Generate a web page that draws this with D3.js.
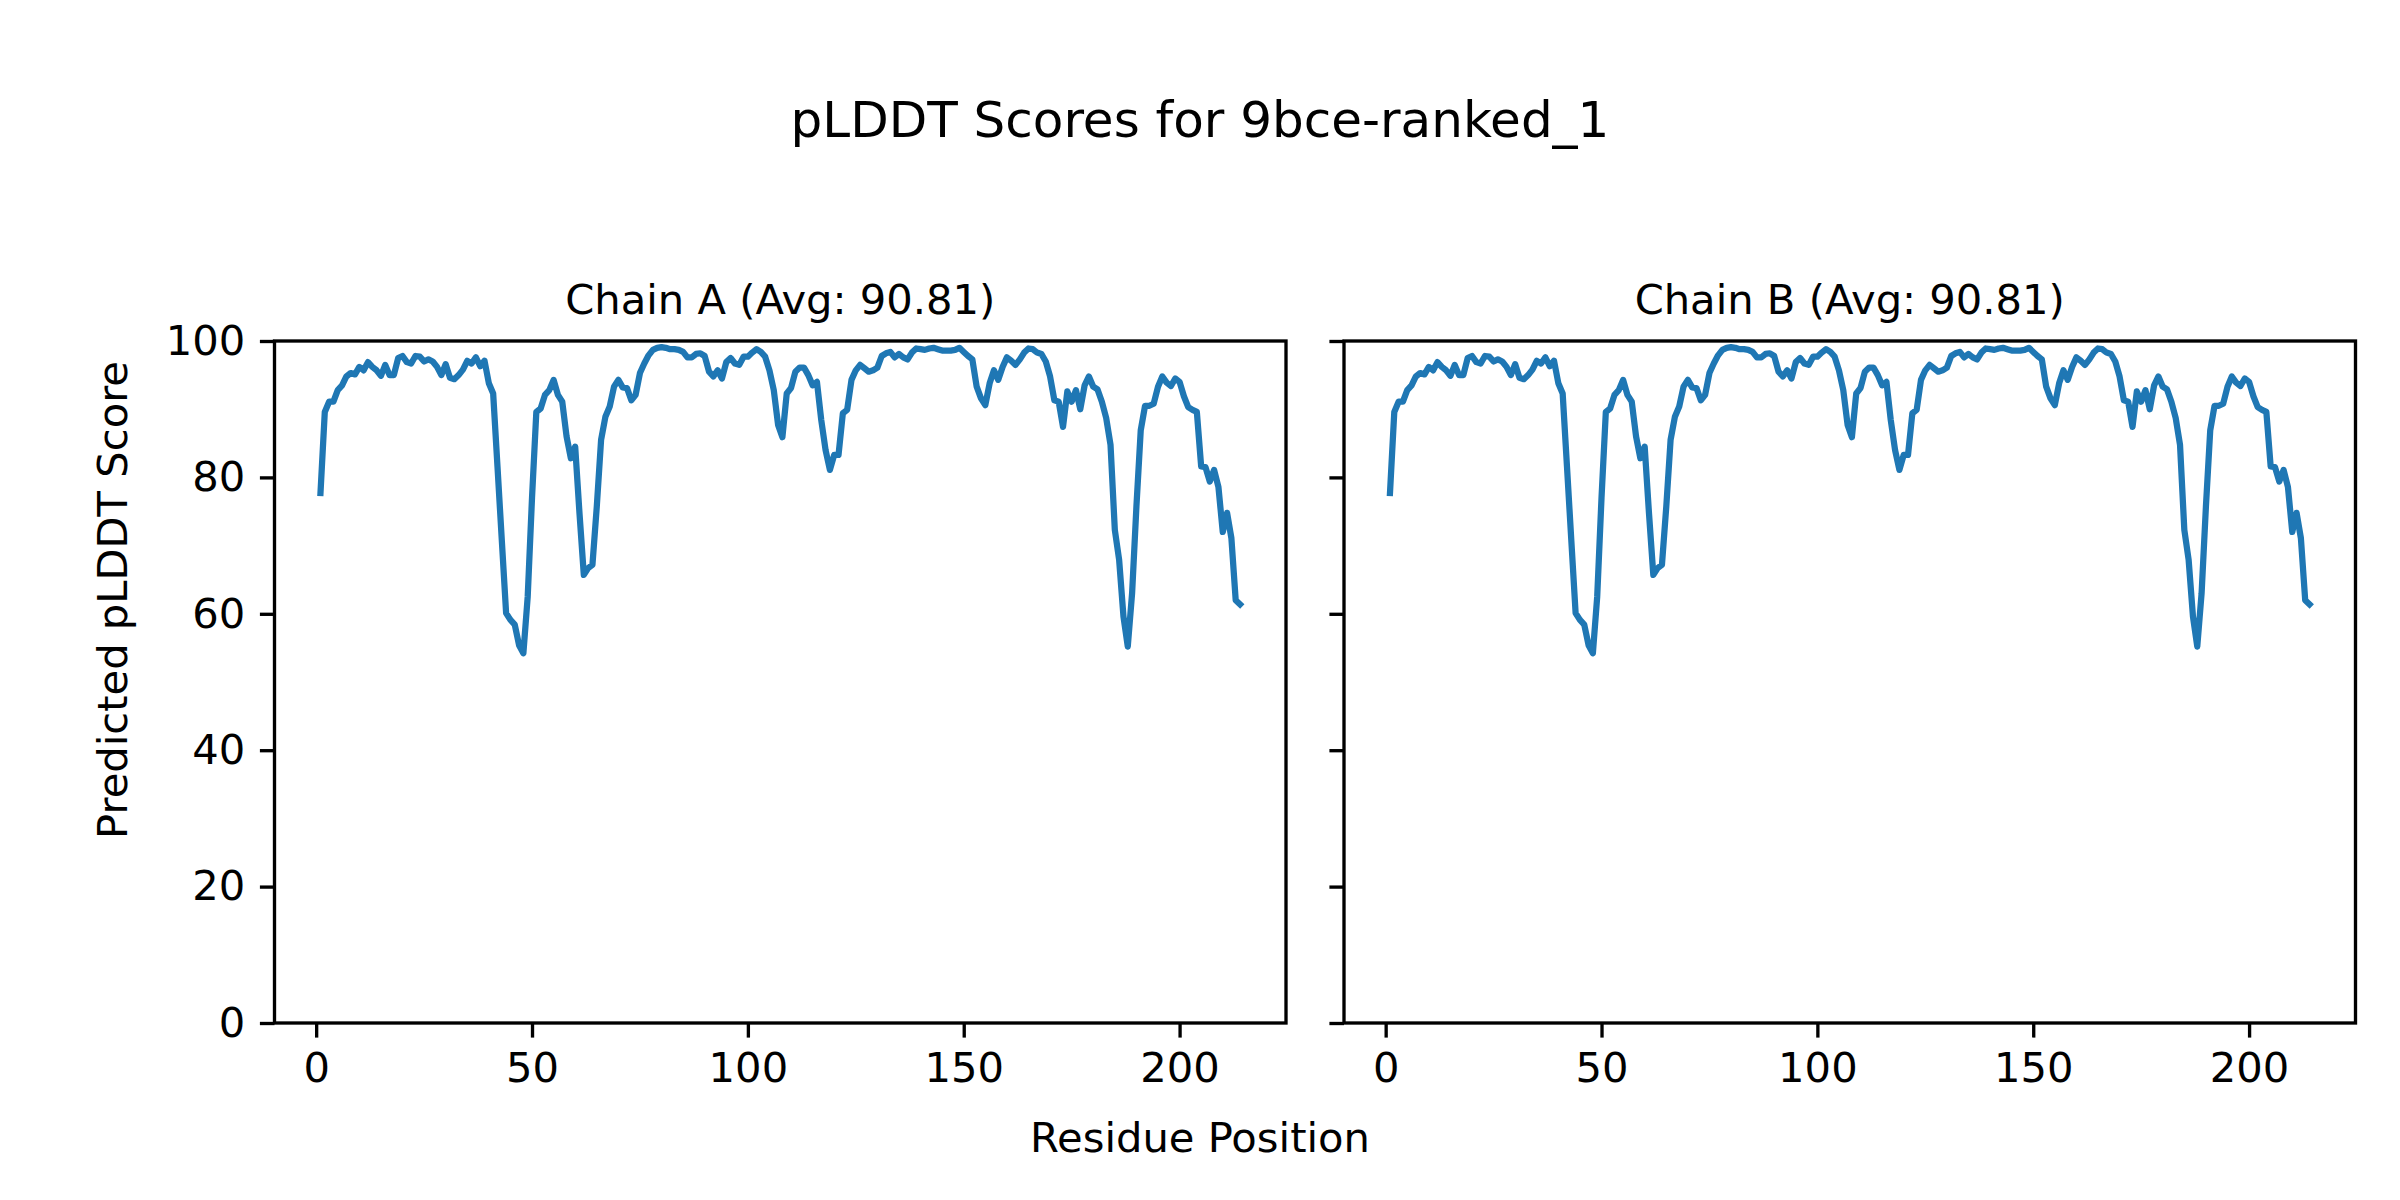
<!DOCTYPE html>
<html>
<head>
<meta charset="utf-8">
<style>
  body { margin: 0; background: #fff; }
  svg { display: block; font-family: 'DejaVu Sans', sans-serif; }
  .line { fill: none; stroke: #1f77b4; stroke-width: 6.25; stroke-linejoin: round; stroke-linecap: square; }
  .frame { fill: none; stroke: #000; stroke-width: 3.33; }
</style>
<script src="https://d3js.org/d3.v7.min.js"></script>
</head>
<body>
<svg width="2400" height="1200"></svg>
<script>
    const chainNames = ['A', 'B'];
    const chainAvg = [90.81, 90.81];
    const chainAScores = [
        77.7, 89.6, 91.1, 91.1, 92.8, 93.5, 94.8, 95.3, 95.1, 96.2,
        95.7, 96.9, 96.2, 95.7, 94.9, 96.5, 95.0, 95.0, 97.5, 97.8,
        96.9, 96.7, 97.8, 97.7, 97.0, 97.3, 97.0, 96.2, 95.0, 96.6,
        94.6, 94.4, 95.0, 95.8, 97.1, 96.7, 97.6, 96.3, 97.1, 93.8,
        92.3, 81.6, 70.8, 60.1, 59.1, 58.4, 55.4, 54.2, 62.5, 77.0,
        89.6, 90.1, 92.1, 92.8, 94.3, 92.1, 91.1, 86.0, 82.8, 84.5,
        74.7, 65.7, 66.7, 67.2, 75.7, 85.5, 88.9, 90.4, 93.3, 94.3,
        93.2, 93.1, 91.3, 92.1, 95.3, 96.7, 97.9, 98.7, 99.0, 99.1,
        99.0, 98.8, 98.8, 98.7, 98.4, 97.6, 97.6, 98.1, 98.2, 97.8,
        95.5, 94.8, 95.7, 94.5, 96.9, 97.5, 96.7, 96.5, 97.7, 97.7,
        98.3, 98.8, 98.4, 97.7, 95.7, 92.8, 87.7, 85.9, 92.3, 93.1,
        95.5, 96.1, 96.1, 95.0, 93.5, 94.0, 88.4, 84.0, 81.1, 83.3,
        83.3, 89.4, 89.9, 94.3, 95.7, 96.5, 96.0, 95.5, 95.7, 96.1,
        97.8, 98.2, 98.4, 97.6, 98.1, 97.6, 97.3, 98.3, 98.9, 98.8,
        98.7, 98.9, 99.0, 98.8, 98.6, 98.6, 98.6, 98.7, 99.0, 98.4,
        97.8, 97.3, 93.3, 91.6, 90.6, 93.8, 95.7, 94.3, 96.2, 97.6,
        97.1, 96.5, 97.3, 98.3, 98.9, 98.8, 98.3, 98.1, 97.0, 94.8,
        91.3, 91.1, 87.4, 92.6, 91.1, 92.8, 90.0, 93.5, 94.8, 93.3,
        92.9, 91.1, 88.7, 84.8, 72.3, 67.9, 59.6, 55.2, 63.0, 75.7,
        86.9, 90.5, 90.5, 90.8, 93.3, 94.8, 93.9, 93.4, 94.5, 94.0,
        91.9, 90.3, 89.9, 89.6, 81.6, 81.5, 79.4, 81.1, 78.6, 72.0,
        74.8, 71.1, 62.0, 61.4
    ];
    const chainBScores = [
        77.7, 89.6, 91.1, 91.1, 92.8, 93.5, 94.8, 95.3, 95.1, 96.2,
        95.7, 96.9, 96.2, 95.7, 94.9, 96.5, 95.0, 95.0, 97.5, 97.8,
        96.9, 96.7, 97.8, 97.7, 97.0, 97.3, 97.0, 96.2, 95.0, 96.6,
        94.6, 94.4, 95.0, 95.8, 97.1, 96.7, 97.6, 96.3, 97.1, 93.8,
        92.3, 81.6, 70.8, 60.1, 59.1, 58.4, 55.4, 54.2, 62.5, 77.0,
        89.6, 90.1, 92.1, 92.8, 94.3, 92.1, 91.1, 86.0, 82.8, 84.5,
        74.7, 65.7, 66.7, 67.2, 75.7, 85.5, 88.9, 90.4, 93.3, 94.3,
        93.2, 93.1, 91.3, 92.1, 95.3, 96.7, 97.9, 98.7, 99.0, 99.1,
        99.0, 98.8, 98.8, 98.7, 98.4, 97.6, 97.6, 98.1, 98.2, 97.8,
        95.5, 94.8, 95.7, 94.5, 96.9, 97.5, 96.7, 96.5, 97.7, 97.7,
        98.3, 98.8, 98.4, 97.7, 95.7, 92.8, 87.7, 85.9, 92.3, 93.1,
        95.5, 96.1, 96.1, 95.0, 93.5, 94.0, 88.4, 84.0, 81.1, 83.3,
        83.3, 89.4, 89.9, 94.3, 95.7, 96.5, 96.0, 95.5, 95.7, 96.1,
        97.8, 98.2, 98.4, 97.6, 98.1, 97.6, 97.3, 98.3, 98.9, 98.8,
        98.7, 98.9, 99.0, 98.8, 98.6, 98.6, 98.6, 98.7, 99.0, 98.4,
        97.8, 97.3, 93.3, 91.6, 90.6, 93.8, 95.7, 94.3, 96.2, 97.6,
        97.1, 96.5, 97.3, 98.3, 98.9, 98.8, 98.3, 98.1, 97.0, 94.8,
        91.3, 91.1, 87.4, 92.6, 91.1, 92.8, 90.0, 93.5, 94.8, 93.3,
        92.9, 91.1, 88.7, 84.8, 72.3, 67.9, 59.6, 55.2, 63.0, 75.7,
        86.9, 90.5, 90.5, 90.8, 93.3, 94.8, 93.9, 93.4, 94.5, 94.0,
        91.9, 90.3, 89.9, 89.6, 81.6, 81.5, 79.4, 81.1, 78.6, 72.0,
        74.8, 71.1, 62.0, 61.4
    ];
    const xTicks = [0, 50, 100, 150, 200];
    const yTicks = [0, 20, 40, 60, 80, 100];

    const chainScores = [chainAScores, chainBScores];
    const panelLeft = [274.5, 1344];
    const panelW = 1011.5;
    const plotTop = 341, plotBottom = 1023;
    const tickLen = 14.6, tickPad = 14.6;

    const svg = d3.select('svg');

    svg.append('text')
        .attr('x', 1200).attr('y', 137)
        .attr('text-anchor', 'middle')
        .style('font-size', '50px')
        .text('pLDDT Scores for 9bce-ranked_1');

    svg.append('text')
        .attr('x', 1200).attr('y', 1152)
        .attr('text-anchor', 'middle')
        .style('font-size', '41.67px')
        .text('Residue Position');

    svg.append('text')
        .attr('transform', 'translate(127,600) rotate(-90)')
        .attr('text-anchor', 'middle')
        .style('font-size', '41.67px')
        .text('Predicted pLDDT Score');

    chainNames.forEach((name, i) => {
        const scores = chainScores[i];
        const n = scores.length;
        const margin = 0.05 * (n - 1);
        const x = d3.scaleLinear()
            .domain([1 - margin, n + margin])
            .range([panelLeft[i], panelLeft[i] + panelW]);
        const y = d3.scaleLinear().domain([0, 100]).range([plotBottom, plotTop]);

        const g = svg.append('g');

        const line = d3.line()
            .x((d, k) => x(k + 1))
            .y(d => y(d));
        g.append('path').datum(scores).classed('line', true).attr('d', line);

        const xAxis = g.append('g')
            .attr('transform', `translate(0,${plotBottom})`)
            .call(d3.axisBottom(x).tickValues(xTicks).tickSize(tickLen).tickPadding(tickPad).tickSizeOuter(0));
        const yAxis = g.append('g')
            .attr('transform', `translate(${panelLeft[i]},0)`)
            .call(d3.axisLeft(y).tickValues(yTicks).tickSize(tickLen).tickPadding(tickPad).tickSizeOuter(0)
                .tickFormat(i === 0 ? d3.format('d') : () => ''));

        [xAxis, yAxis].forEach(ax => {
            ax.select('.domain').remove();
            ax.selectAll('.tick line').attr('stroke', '#000').attr('stroke-width', 3.33);
            ax.selectAll('.tick text')
                .attr('fill', '#000')
                .style('font-size', '41.67px')
                .style('font-family', "'DejaVu Sans', sans-serif");
        });

        g.append('rect').classed('frame', true)
            .attr('x', panelLeft[i]).attr('y', plotTop)
            .attr('width', panelW).attr('height', plotBottom - plotTop);

        g.append('text')
            .attr('x', panelLeft[i] + panelW / 2).attr('y', plotTop - 27)
            .attr('text-anchor', 'middle')
            .style('font-size', '41.67px')
            .text(`Chain ${name} (Avg: ${chainAvg[i].toFixed(2)})`);
    });
</script>
</body>
</html>
